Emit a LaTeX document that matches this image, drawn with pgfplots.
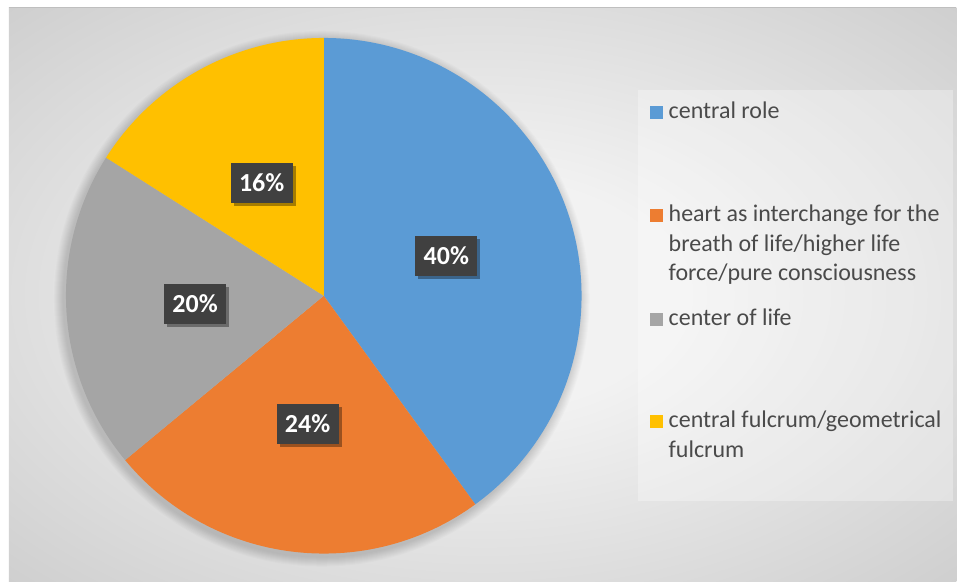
\documentclass[border=0pt]{standalone}
\usepackage{pgfplots}
\pgfplotsset{compat=1.18}
\usepackage{pgfplotstable}
\usepackage{fontspec}
\setmainfont{Carlito}
\usetikzlibrary{shadows}

\definecolor{cblue}{HTML}{5B9BD5}
\definecolor{corange}{HTML}{ED7D31}
\definecolor{cgrey}{HTML}{A5A5A5}
\definecolor{cyellow}{HTML}{FFC000}
\definecolor{txt}{HTML}{4A4A4A}
\definecolor{lbl}{HTML}{404040}
\definecolor{bgin}{HTML}{F2F2F2}
\definecolor{bgout}{HTML}{C6C6C6}

\pgfdeclareradialshading{bgshade}{\pgfpoint{0bp}{0bp}}{color(0bp)=(bgin); color(10bp)=(bgin); color(42bp)=(bgout); color(75bp)=(bgout)}

\pgfplotstableread{
name value
central 40
heart 24
center 20
fulcrum 16
}\piedata

\begin{document}
\begin{tikzpicture}
\pgfplotstablegetelem{0}{value}\of\piedata \let\vA\pgfplotsretval
\pgfplotstablegetelem{1}{value}\of\piedata \let\vB\pgfplotsretval
\pgfplotstablegetelem{2}{value}\of\piedata \let\vC\pgfplotsretval
\pgfplotstablegetelem{3}{value}\of\piedata \let\vD\pgfplotsretval
\pgfmathsetmacro\aA{90}
\pgfmathsetmacro\aB{\aA-3.6*\vA}
\pgfmathsetmacro\aC{\aB-3.6*\vB}
\pgfmathsetmacro\aD{\aC-3.6*\vC}
\pgfmathsetmacro\aE{\aD-3.6*\vD}
\pgfmathsetmacro\mA{(\aA+\aB)/2}
\pgfmathsetmacro\mB{(\aB+\aC)/2}
\pgfmathsetmacro\mC{(\aC+\aD)/2}
\pgfmathsetmacro\mD{(\aD+\aE)/2}
\tikzset{lblbox/.style={fill=lbl, text=white, font=\fontsize{26}{30}\selectfont\bfseries,
  minimum width=62pt, minimum height=40pt, inner sep=0pt,
  drop shadow={shadow xshift=3pt, shadow yshift=-3pt, opacity=0.35, fill=black}}}
\begin{axis}[x=1pt, y=1pt, xmin=0, xmax=957, ymin=0, ymax=582,
  hide axis, scale only axis, clip=false]
% background
\fill[white] (axis cs:0,0) rectangle (axis cs:957,582);
\shade[shading=bgshade] (axis cs:9,0) rectangle (axis cs:957,574);
\draw[color=black!25, line width=1.5pt] (axis cs:9,574.5) -- (axis cs:957,574.5);
% soft pie shadow
\pgfplotsinvokeforeach{1,2,3,4,5,6,7,8,9,10}{
  \fill[black, opacity=0.014] (axis cs:322,283) circle[radius={258pt+#1pt}];
}
% pie slices
\fill[cblue] (axis cs:324,286) -- ++(\aA:258pt) arc[start angle=\aA, end angle=\aB, radius=258pt] -- cycle;
\fill[corange] (axis cs:324,286) -- ++(\aB:258pt) arc[start angle=\aB, end angle=\aC, radius=258pt] -- cycle;
\fill[cgrey] (axis cs:324,286) -- ++(\aC:258pt) arc[start angle=\aC, end angle=\aD, radius=258pt] -- cycle;
\fill[cyellow] (axis cs:324,286) -- ++(\aD:258pt) arc[start angle=\aD, end angle=\aE, radius=258pt] -- cycle;
% data labels
\path (axis cs:324,286) ++(\mA:129pt) node[lblbox] {\vA\%};
\path (axis cs:324,286) ++(\mB:129pt) node[lblbox] {\vB\%};
\path (axis cs:324,286) ++(\mC:129pt) node[lblbox] {\vC\%};
\path (axis cs:324,286) ++(\mD:129pt) node[lblbox] {\vD\%};
% legend
\fill[white, opacity=0.3] (axis cs:638,81) rectangle (axis cs:954,492);
\fill[cblue] (axis cs:651,463) rectangle (axis cs:663.5,475.5);
\fill[corange] (axis cs:651,360) rectangle (axis cs:663.5,372.5);
\fill[cgrey] (axis cs:651,256) rectangle (axis cs:663.5,268.5);
\fill[cyellow] (axis cs:651,154) rectangle (axis cs:663.5,166.5);
\begin{scope}[every node/.style={anchor=base west, inner sep=0pt, text=txt, font=\fontsize{24}{29}\selectfont}]
\node at (axis cs:669,463) {central role};
\node at (axis cs:669,360) {heart as interchange for the};
\node at (axis cs:669,330.5) {breath of life/higher life};
\node at (axis cs:669,301) {force/pure consciousness};
\node at (axis cs:669,256) {center of life};
\node at (axis cs:669,154) {central fulcrum/geometrical};
\node at (axis cs:669,124) {fulcrum};
\end{scope}
\end{axis}
\end{tikzpicture}
\end{document}
